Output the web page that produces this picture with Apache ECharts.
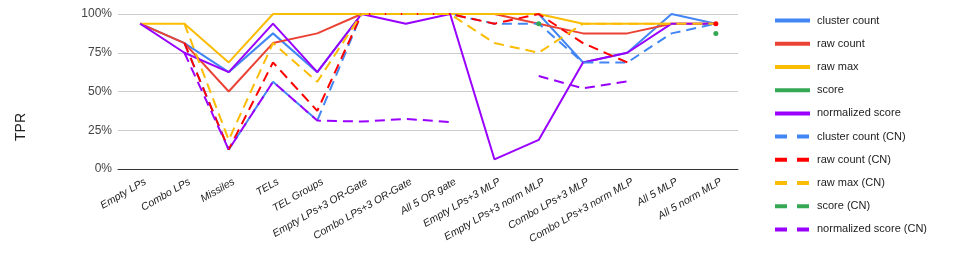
<!DOCTYPE html>
<html>
<head>
<meta charset="utf-8">
<script src="https://cdn.jsdelivr.net/npm/echarts@6/dist/echarts.min.js"></script>
<style>
html,body{margin:0;padding:0;background:#fff;}
#chart{width:964px;height:257px;}
</style>
</head>
<body>
<div id="chart"></div>
<script>
const categories = ['Empty LPs','Combo LPs','Missiles','TELs','TEL Groups','Empty LPs+3 OR-Gate','Combo LPs+3 OR-Gate','All 5 OR gate','Empty LPs+3 MLP','Empty LPs+3 norm MLP','Combo LPs+3 MLP','Combo LPs+3 norm MLP','All 5 MLP','All 5 norm MLP'];
const yTicks = [0, 25, 50, 75, 100];

const clusterCount      = [93.75, 81.25, 62.5, 87.5, 62.5, 100, 100, 100, 100, 100, 68.75, 75, 100, 93.75];
const rawCount          = [93.75, 81.25, 50, 81.25, 87.5, 100, 100, 100, 100, 93.75, 87.5, 87.5, 93.75, 93.75];
const rawMax            = [93.75, 93.75, 68.75, 100, 100, 100, 100, 100, 100, 100, 93.75, 93.75, 93.75, 93.75];
const score             = [null, null, null, null, null, null, null, null, null, 93.75, null, null, null, 87.5];
const normalizedScore   = [93.75, 75, 62.5, 93.75, 62.5, 100, 93.75, 100, 6.25, 18.75, 68.75, 75, 93.75, 93.75];
const clusterCountCN    = [null, 81.25, 12.5, 56.25, 31.25, 100, 100, 100, 93.75, 93.75, 68.75, 68.75, 87.5, 93.75];
const rawCountCN        = [null, 81.25, 12.5, 68.75, 37.5, 100, 100, 100, 93.75, 100, 81.25, 68.75, null, 93.75];
const rawMaxCN          = [null, 93.75, 18.75, 81.25, 56.25, 100, 100, 100, 81.25, 75, 93.75, 93.75, 93.75, 93.75];
const scoreCN           = [null, null, null, null, null, null, null, null, null, null, null, null, null, null];
const normalizedScoreCN = [null, 75, 12.5, 56.25, 31.25, 30.6, 32.3, 30.3, null, 60, 52, 56.5, null, null];

const seriesDefs = [
  {name:'cluster count', data:clusterCount, color:'#4285F4', dashed:false},
  {name:'raw count', data:rawCount, color:'#EA4335', dashed:false},
  {name:'raw max', data:rawMax, color:'#FBBC04', dashed:false},
  {name:'score', data:score, color:'#34A853', dashed:false},
  {name:'normalized score', data:normalizedScore, color:'#9900FF', dashed:false},
  {name:'cluster count (CN)', data:clusterCountCN, color:'#4285F4', dashed:true},
  {name:'raw count (CN)', data:rawCountCN, color:'#FF0000', dashed:true},
  {name:'raw max (CN)', data:rawMaxCN, color:'#FBBC04', dashed:true},
  {name:'score (CN)', data:scoreCN, color:'#34A853', dashed:true},
  {name:'normalized score (CN)', data:normalizedScoreCN, color:'#9900FF', dashed:true}
];

function markIsolated(arr){
  return arr.map((v,i)=>{
    if (v == null) return null;
    const prev = i > 0 ? arr[i-1] : null;
    const next = i < arr.length-1 ? arr[i+1] : null;
    if (prev == null && next == null) return {value:v, symbol:'circle', symbolSize:5};
    return v;
  });
}

const FONT = 'Arial, "Liberation Sans", sans-serif';
const chart = echarts.init(document.getElementById('chart'), null, {renderer:'canvas'});

chart.setOption({
  animation:false,
  backgroundColor:'#fff',
  grid:{left:118, right:226, top:14, bottom:88, containLabel:false},
  xAxis:{
    type:'category',
    data:categories,
    boundaryGap:true,
    axisLine:{show:true, lineStyle:{color:'#333', width:1}},
    axisTick:{show:false},
    axisLabel:{rotate:30, fontSize:10.5, fontStyle:'italic', color:'#222', fontFamily:FONT, margin:15, padding:[0,-6,0,0], interval:0}
  },
  yAxis:{
    type:'value',
    min:yTicks[0], max:yTicks[yTicks.length-1], interval:25,
    axisLine:{show:false},
    axisTick:{show:false},
    splitLine:{lineStyle:{color:'#cccccc', width:1}},
    axisLabel:{formatter:'{value}%', fontSize:12, color:'#444', fontFamily:FONT, margin:6}
  },
  graphic:[{
    type:'text', x:21, y:127, rotation:Math.PI/2,
    style:{text:'TPR', fontSize:14, fill:'#222', fontFamily:FONT, align:'center', verticalAlign:'middle'}
  }],
  legend:{
    orient:'vertical',
    left:768, top:10,
    itemWidth:35, itemHeight:14, itemGap:12,
    textStyle:{fontSize:11, color:'#222', fontFamily:FONT, padding:[0,0,0,2]},
    itemStyle:{opacity:0, color:'rgba(0,0,0,0)', borderWidth:0},
    selectedMode:false,
    data:seriesDefs.map(s=>({name:s.name, lineStyle:{width:4, color:s.color, type:s.dashed?[12,10]:'solid'}}))
  },
  series:seriesDefs.map(s=>({
    name:s.name,
    type:'line',
    data:markIsolated(s.data),
    color:s.color,
    symbol:'none',
    showSymbol:true,
    showAllSymbol:true,
    connectNulls:false,
    lineStyle:{width:2, color:s.color, type:s.dashed?[10,6]:'solid'},
    itemStyle:{color:s.color},
    emphasis:{disabled:true},
    silent:true
  }))
});
</script>
</body>
</html>
